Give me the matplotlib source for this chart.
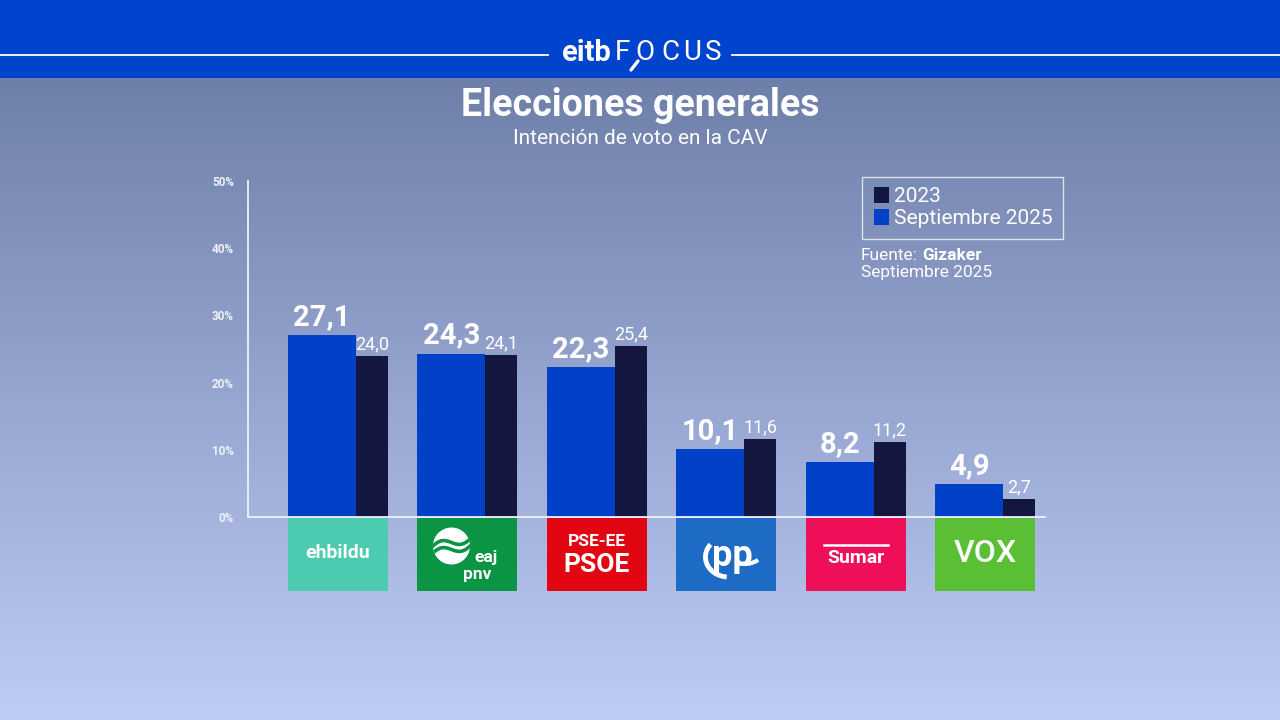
import numpy as np
import matplotlib
matplotlib.use("Agg")
import matplotlib.pyplot as plt
from matplotlib.patches import Rectangle, Circle, Arc
from matplotlib.lines import Line2D

# ---------------- data ----------------
parties = ["EH Bildu", "EAJ-PNV", "PSE-EE", "PP", "Sumar", "Vox"]
sep2025 = [27.1, 24.3, 22.3, 10.1, 8.2, 4.9]
y2023 = [24.0, 24.1, 25.4, 11.6, 11.2, 2.7]
yticks = [0, 10, 20, 30, 40, 50]
ytick_labels = ["0%", "10%", "20%", "30%", "40%", "50%"]
legend_labels = ["2023", "Septiembre 2025"]
party_colors = ["#4DCBB0", "#0B9444", "#E20613", "#1E6BC6", "#EF0F58", "#5BBF35"]

BLUE = "#0041C8"
DARK = "#13163F"
WHITE = "white"

plt.rcParams['font.family'] = ['Roboto', 'DejaVu Sans']

W, H = 1280, 720
fig = plt.figure(figsize=(12.8, 7.2), dpi=100)
renderer = fig.canvas.get_renderer()

# ---------------- background overlay (pixel coords) ----------------
bg = fig.add_axes([0, 0, 1, 1], zorder=0)
bg.set_xlim(0, W)
bg.set_ylim(H, 0)
bg.axis("off")
top = np.array([110, 127, 170]) / 255
bot = np.array([190, 205, 246]) / 255
t = np.linspace(0, 1, 256)[:, None]
grad = (top[None, :] * (1 - t) + bot[None, :] * t)[:, None, :]
bg.imshow(grad, extent=[0, W, H, 78], aspect="auto", zorder=0)
bg.add_patch(Rectangle((0, 0), W, 78, color="#0044CE", zorder=1, lw=0))
bg.add_line(Line2D([0, 548], [55, 55], color=WHITE, lw=1.3, zorder=2))
bg.add_line(Line2D([732, W], [55, 55], color=WHITE, lw=1.3, zorder=2))
bg.text(612, 53, "eitb", color=WHITE, fontsize=21, fontweight="bold",
        ha="right", va="center", zorder=3)
for ch, xc in zip("FOCUS", [622, 645, 670, 692, 713]):
    bg.text(xc, 53, ch, color=WHITE, fontsize=20, fontweight="normal",
            ha="center", va="center", zorder=3)
bg.add_line(Line2D([638, 631], [61, 70], color=WHITE, lw=2.4, zorder=3,
                   solid_capstyle="round"))

bg.text(640, 105, "Elecciones generales", color=WHITE, fontsize=27,
        fontweight="bold", ha="center", va="center", zorder=3)
bg.text(640, 138, "Intención de voto en la CAV", color=WHITE, fontsize=15,
        ha="center", va="center", zorder=3)

# legend
bg.add_patch(Rectangle((862, 177), 201, 62, fill=False, ec=(1, 1, 1, 0.75),
                       lw=1.0, zorder=3))
bg.add_patch(Rectangle((874, 187), 15, 16, color=DARK, lw=0, zorder=3))
bg.add_patch(Rectangle((874, 209), 15, 16, color=BLUE, lw=0, zorder=3))
bg.text(894, 196, legend_labels[0], color=WHITE, fontsize=15, ha="left",
        va="center", zorder=3)
bg.text(894, 218, legend_labels[1], color=WHITE, fontsize=15, ha="left",
        va="center", zorder=3)
tf = bg.text(861, 255, "Fuente:", color=WHITE, fontsize=12.5, ha="left",
             va="center", zorder=3)
ext = tf.get_window_extent(renderer)
bg.text(ext.x1 + 4, 255, "Gizaker", color=WHITE, fontsize=12.5,
        fontweight="bold", ha="left", va="center", zorder=3)
bg.text(861, 273, "Septiembre 2025", color=WHITE, fontsize=12.5, ha="left",
        va="center", zorder=3)

# ---------------- main chart ----------------
ax = fig.add_axes([248 / W, 1 - 517 / H, 797 / W, 336 / H], zorder=2)
ax.patch.set_alpha(0)
x = np.arange(len(parties))
ax.set_xlim(-0.695, 5.46)
ax.set_ylim(0, 50)

wb = 68 / 129.5
wd = 32 / 129.5
left_b = x - 50 / 129.5
left_d = left_b + wb
ax.bar(left_b, sep2025, width=wb, align="edge", color=BLUE, lw=0, zorder=2)
ax.bar(left_d, y2023, width=wd, align="edge", color=DARK, lw=0, zorder=2)

for xb, v in zip(left_b + wb / 2, sep2025):
    ax.annotate(f"{v:.1f}".replace(".", ","), (xb, v), xytext=(0, 3),
                textcoords="offset points", ha="center", va="bottom",
                color=WHITE, fontsize=21, fontweight="bold", zorder=3,
                annotation_clip=False)
for xd, v in zip(left_d + wd / 2, y2023):
    ax.annotate(f"{v:.1f}".replace(".", ","), (xd, v), xytext=(0, 2),
                textcoords="offset points", ha="center", va="bottom",
                color=WHITE, fontsize=13, zorder=3, annotation_clip=False)

for s in ["top", "right"]:
    ax.spines[s].set_visible(False)
for s in ["left", "bottom"]:
    ax.spines[s].set_color("#EEF1FA")
    ax.spines[s].set_linewidth(1.3)
ax.set_yticks(yticks)
ax.set_yticklabels(ytick_labels)
ax.tick_params(axis="y", length=0, pad=10, labelsize=8.5, labelcolor="#EEF0F8")
for lbl in ax.get_yticklabels():
    lbl.set_fontweight("bold")
ax.set_xticks([])

# ---------------- party logos (pixel overlay) ----------------
fg = fig.add_axes([0, 0, 1, 1], zorder=3)
fg.set_xlim(0, W)
fg.set_ylim(H, 0)
fg.axis("off")
fg.patch.set_alpha(0)

centers = [ax.transData.transform((xi, 0))[0] for xi in x]
for c, col in zip(centers, party_colors):
    fg.add_patch(Rectangle((c - 50, 518), 100, 73, color=col, lw=0))

# EH Bildu
c = centers[0]
fg.text(c, 553, "ehbildu", color=WHITE, fontsize=14, fontweight="bold",
        ha="center", va="center")
# EAJ-PNV
c = centers[1]
circ = Circle((c - 16, 546), 18.5, color=WHITE, lw=0)
fg.add_patch(circ)
s = np.linspace(-1.2, 1.2, 60)
for off in (-3.5, 3.5):
    wx = c - 16 + s * 18.5
    wy = 546 - s * 6 + np.sin(s * 2.6) * 5 + off
    ln = Line2D(wx, wy, color=party_colors[1], lw=2.6)
    fg.add_line(ln)
    ln.set_clip_path(circ)
fg.text(c + 19, 562, "eaj", color=WHITE, fontsize=12.5, fontweight="bold",
        ha="center", va="baseline")
fg.text(c + 10, 567, "pnv", color=WHITE, fontsize=12.5, fontweight="bold",
        ha="center", va="top", linespacing=0.8)
# PSOE
c = centers[2]
fg.text(c, 541, "PSE-EE", color=WHITE, fontsize=12.5, fontweight="bold",
        ha="center", va="center")
fg.text(c, 565, "PSOE", color=WHITE, fontsize=19, fontweight="bold",
        ha="center", va="center")
# PP
c = centers[3]
fg.text(c + 6, 556, "pp", color=WHITE, fontsize=26, fontweight="bold",
        ha="center", va="center")
fg.add_patch(Arc((c + 2, 557), 46, 40, theta1=95, theta2=215, color=WHITE,
                 lw=3.5))
fg.add_patch(Arc((c + 18, 552), 36, 24, theta1=30, theta2=120, color=WHITE,
                 lw=3))
# Sumar
c = centers[4]
fg.add_line(Line2D([c - 32, c + 32], [545, 545], color=WHITE, lw=1.8))
fg.text(c, 558, "Sumar", color=WHITE, fontsize=14, fontweight="bold",
        ha="center", va="center")
# Vox
c = centers[5]
fg.text(c, 554, "VOX", color=WHITE, fontsize=23, fontweight="medium",
        ha="center", va="center")

fig.savefig("out.png", dpi=100)
